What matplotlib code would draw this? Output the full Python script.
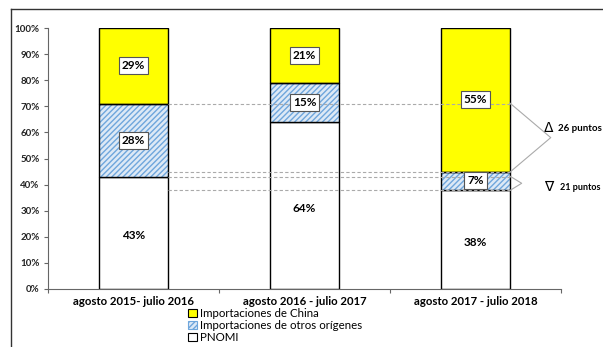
import matplotlib
matplotlib.use("Agg")
import matplotlib.pyplot as plt
from matplotlib.lines import Line2D
from matplotlib.patches import Patch
import numpy as np

plt.rcParams['font.family'] = ['Lato', 'DejaVu Sans']

periodos = ["agosto 2015- julio 2016", "agosto 2016 - julio 2017", "agosto 2017 - julio 2018"]
pnomi = [43, 64, 38]
otros = [28, 15, 7]
china = [29, 21, 55]
series_names = ["Importaciones de China", "Importaciones de otros orígenes", "PNOMI"]
yticks = [0, 10, 20, 30, 40, 50, 60, 70, 80, 90, 100]
dif_china = "26 puntos"
dif_otros = "21 puntos"

fig = plt.figure(figsize=(6.03, 3.47), dpi=100)
ax = fig.add_axes([48/603, 1 - 289/347, (561 - 48)/603, (289 - 28)/347])

x = np.arange(len(periodos))
w = 0.40
p = np.array(pnomi, float)
o = np.array(otros, float)
c = np.array(china, float)

plt.rcParams['hatch.linewidth'] = 1.0
ax.bar(x, p, w, color="white", edgecolor="black", linewidth=1.0, zorder=2)
# hatched layer: blue stripes on pale blue, outline drawn separately
ax.bar(x, o, w, bottom=p, color="#dde9f6", edgecolor="#6fa6dc", hatch="//////", linewidth=0, zorder=2)
ax.bar(x, o, w, bottom=p, color="none", edgecolor="black", linewidth=1.0, zorder=3)
ax.bar(x, c, w, bottom=p + o, color="#ffff00", edgecolor="black", linewidth=1.0, zorder=2)

box = dict(boxstyle="square,pad=0.25", fc="white", ec="#555555", lw=0.8)
for i in range(len(x)):
    ax.text(x[i], p[i] / 2 - 1, f"{pnomi[i]}%", ha="center", va="center", fontsize=8.5, fontweight="bold", zorder=6)
    ax.text(x[i], p[i] + o[i] / 2, f"{otros[i]}%", ha="center", va="center", fontsize=8.5, fontweight="bold", bbox=box, zorder=6)
    ax.text(x[i], p[i] + o[i] + c[i] / 2, f"{china[i]}%", ha="center", va="center", fontsize=8.5, fontweight="bold", bbox=box, zorder=6)

# reference lines comparing first and last period
x0 = x[0] + w / 2
x1 = x[2] + w / 2
levels = [p[0] + o[0], p[2] + o[2], p[0], p[2]]
for lv in levels:
    ax.plot([x0, x1], [lv, lv], ls=(0, (3, 2)), color="#aaaaaa", lw=0.8, zorder=5)

# brackets
top_a, top_b = levels[0], levels[1]
ax.plot([x1, x1 + 0.24, x1], [top_a + 0.3, (top_a + top_b) / 2, top_b - 0.3], color="#aaaaaa", lw=0.8, clip_on=False, zorder=5)
bot_a, bot_b = levels[2], levels[3]
ax.plot([x1, x1 + 0.07, x1], [bot_a + 0.3, (bot_a + bot_b) / 2, bot_b - 0.3], color="#aaaaaa", lw=0.8, clip_on=False, zorder=5)

ax.text(x1 + 0.20, (top_a + top_b) / 2 + 3.5, "\u0394", family="DejaVu Sans", fontsize=10, ha="left", va="center", clip_on=False)
ax.text(x1 + 0.28, (top_a + top_b) / 2 + 3.5, dif_china, fontsize=7, fontweight="bold", ha="left", va="center", clip_on=False)
ax.text(x1 + 0.20, (bot_a + bot_b) / 2 - 1.5, "\u2207", family="DejaVu Sans", fontsize=10, ha="left", va="center", clip_on=False)
ax.text(x1 + 0.295, (bot_a + bot_b) / 2 - 1.5, dif_otros, fontsize=6.5, fontweight="bold", ha="left", va="center", clip_on=False)

ax.set_xlim(-0.5, 2.5)
ax.set_ylim(0, 100)
ax.set_yticks(yticks)
ax.set_yticklabels([f"{t}%" for t in yticks], fontsize=7, fontweight="bold", color="#222222")
ax.set_xticks([-0.5, 0.5, 1.5, 2.5])
ax.set_xticklabels([])
ax.set_xticks(x, minor=True)
ax.set_xticklabels(periodos, minor=True, fontsize=8.2, fontweight="bold")
ax.tick_params(axis="x", which="minor", length=0, pad=5)
ax.tick_params(axis="x", which="major", length=3, direction="out", color="#666666")
ax.tick_params(axis="y", length=3, direction="out", color="#666666", pad=3)
for s in ["top", "right"]:
    ax.spines[s].set_visible(False)
ax.spines["left"].set_color("#666666")
ax.spines["bottom"].set_color("#666666")

handles = [
    Patch(facecolor="#ffff00", edgecolor="black", lw=0.8),
    Patch(facecolor="#dde9f6", edgecolor="#6fa6dc", hatch="//////", lw=0.8),
    Patch(facecolor="white", edgecolor="black", lw=0.8),
]
fig.legend(handles, series_names, loc="upper left", bbox_to_anchor=(188/603, 1 - 308/347),
           frameon=False, fontsize=8.3, handlelength=0.8, handleheight=0.7, handletextpad=0.2,
           labelspacing=0.1, borderpad=0, borderaxespad=0)

# outer frame
fig.add_artist(Line2D([11/603, 11/603], [0, 1 - 9/347], color="#333333", lw=1.0, transform=fig.transFigure))
fig.add_artist(Line2D([11/603, 1], [1 - 9/347, 1 - 9/347], color="#333333", lw=1.0, transform=fig.transFigure))

fig.savefig("out.png", dpi=100)
